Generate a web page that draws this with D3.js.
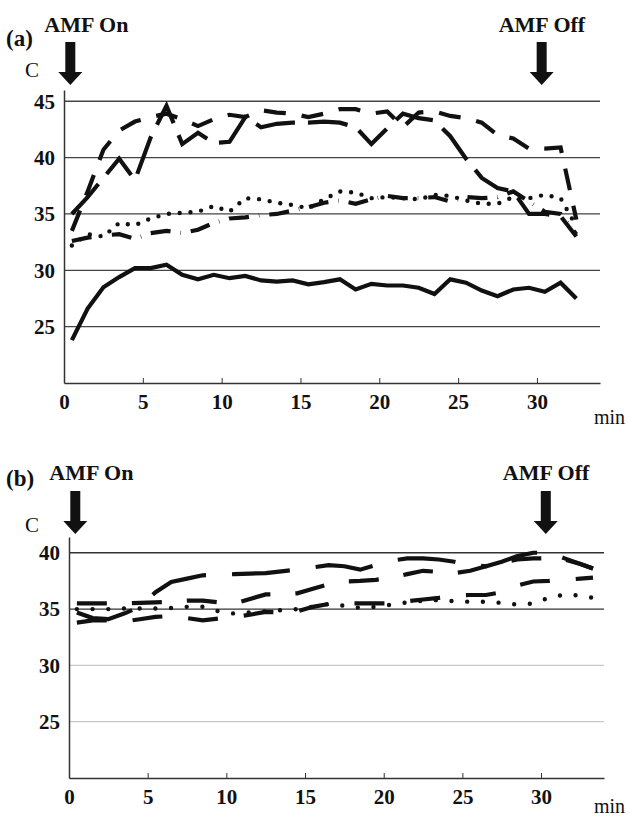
<!DOCTYPE html>
<html>
<head>
<meta charset="utf-8">
<script src="https://cdn.jsdelivr.net/npm/d3@7"></script>
<style>
  body { margin: 0; background: #fff; }
  text { font-family: "Liberation Serif", "Times New Roman", serif; fill: #111; }
</style>
</head>
<body>
<script>
const width = 627
const height = 816

// time points (min)
const timesA = [0.5, 1.5, 2.5, 3.5, 4.5, 5.5, 6.5, 7.5, 8.5, 9.5, 10.5, 11.5, 12.5, 13.5, 14.5, 15.5, 16.5,
  17.5, 18.5, 19.5, 20.5, 21.5, 22.5, 23.5, 24.5, 25.5, 26.5, 27.5, 28.5, 29.5, 30.5, 31.5, 32.5]
const timesB = [0.5, 1.5, 2.5, 3.5, 4.5, 5.5, 6.5, 7.5, 8.5, 9.5, 10.5, 11.5, 12.5, 13.5, 14.5, 15.5, 16.5,
  17.5, 18.5, 19.5, 20.5, 21.5, 22.5, 23.5, 24.5, 25.5, 26.5, 27.5, 28.5, 29.5, 30.5, 31.5, 32.5, 33.3]

// panel (a) temperatures, C
const solidA = [23.8, 26.6, 28.5, 29.4, 30.2, 30.2, 30.5, 29.6, 29.2, 29.6, 29.3, 29.5, 29.1, 29.0, 29.1, 28.75, 28.95,
  29.2, 28.3, 28.8, 28.65, 28.65, 28.45, 27.9, 29.2, 28.9, 28.2, 27.7, 28.3, 28.45, 28.1, 28.9, 27.5]
const longDashA = [35.0, 36.5, 38.2, 39.9, 38.0, 41.8, 44.6, 41.2, 42.2, 41.3, 41.4, 43.6, 42.7, 43.0, 43.1, 43.1, 43.2,
  43.1, 42.7, 41.2, 42.6, 43.9, 43.5, 43.3, 41.9, 39.9, 38.2, 37.3, 37.0, 35.0, 35.0, 34.8, 33.0]
const dashA = [33.5, 37.0, 40.7, 42.4, 43.2, 43.6, 43.9, 43.4, 42.8, 43.4, 43.8, 43.6, 44.2, 44.0, 43.9, 43.6, 43.9,
  44.3, 44.3, 43.9, 44.1, 42.7, 44.0, 44.1, 43.7, 43.5, 43.1, 42.0, 41.7, 40.8, 40.8, 40.9, 34.5]
const dotA = [32.2, 33.2, 33.0, 34.2, 34.0, 34.6, 35.0, 35.1, 35.2, 35.7, 35.2, 36.4, 36.3, 36.0, 35.8, 35.5, 36.3,
  37.0, 36.9, 36.4, 36.5, 36.4, 36.3, 36.7, 36.6, 36.2, 35.9, 35.9, 36.5, 36.4, 36.7, 36.4, 33.9]
const dashDotA = [32.6, 32.9, 33.1, 33.2, 32.8, 33.3, 33.5, 33.3, 33.6, 34.2, 34.6, 34.7, 34.9, 35.0, 35.3, 35.6, 36.0,
  36.2, 35.9, 36.3, 36.6, 36.4, 36.4, 36.5, 36.1, 36.5, 36.4, 36.5, 37.0, 36.1, 35.2, 35.0, 33.2]

// panel (b) temperatures, C
const longDashB = [34.7, 34.2, 34.1, 34.6, 35.2, 36.5, 37.4, 37.7, 38.0, 38.05, 38.1, 38.15, 38.2, 38.35, 38.5, 38.7, 38.9,
  38.8, 38.5, 38.9, 39.3, 39.5, 39.5, 39.4, 39.2, 38.9, 38.8, 39.2, 39.7, 40.0, 40.0, 39.5, 39.0, 38.6]
const dashB = [35.5, 35.5, 35.5, 35.5, 35.55, 35.6, 35.65, 35.75, 35.75, 35.6, 35.5, 35.9, 36.3, 36.3, 36.4, 36.8, 37.2,
  37.45, 37.5, 37.6, 37.8, 38.1, 38.4, 38.3, 38.2, 38.4, 38.8, 39.1, 39.4, 39.5, 39.5, 39.4, 39.0, 38.6]
const lowDashB = [33.8, 34.0, 34.0, 33.9, 34.1, 34.3, 34.4, 34.2, 34.0, 34.15, 34.3, 34.5, 34.75, 34.7, 34.8, 35.2, 35.45,
  35.5, 35.5, 35.5, 35.5, 35.7, 35.85, 36.0, 36.2, 36.25, 36.25, 36.5, 37.1, 37.45, 37.5, 37.6, 37.7, 37.8]
const dotB = [35.0, 35.0, 35.0, 35.05, 35.05, 35.05, 35.1, 35.2, 35.2, 34.8, 34.6, 34.7, 34.8, 34.9, 35.0, 35.2, 35.45,
  35.3, 35.1, 35.2, 35.4, 35.6, 35.75, 35.8, 35.7, 35.65, 35.65, 35.55, 35.4, 35.5, 36.0, 36.3, 36.2, 36.0]

const xTicks = [0, 5, 10, 15, 20, 25, 30]
const yTicksA = [25, 30, 35, 40, 45]
const yTicksB = [25, 30, 35, 40]
const darkGridB = [35, 40]
const amfOn = 0.4
const amfOff = 30.3

const svg = d3.select("body")
  .append("svg")
    .attr("width", width)
    .attr("height", height)

function drawPanel(p) {
  const x = d3.scaleLinear().domain([0, 34]).range([p.left, p.right])
  const y = d3.scaleLinear().domain([20, p.yTop]).range([p.bottom, p.top])
  const g = svg.append("g")

  // grid lines
  g.selectAll(".grid")
    .data(p.yTicks)
    .join("line")
      .attr("x1", p.left).attr("x2", p.right)
      .attr("y1", d => y(d)).attr("y2", d => y(d))
      .attr("stroke", d => p.gridColor(d))
      .attr("stroke-width", 1.3)

  // y axis
  const yAxis = g.append("g")
    .attr("transform", `translate(${p.left},0)`)
    .call(d3.axisLeft(y).tickValues(p.yTicks).tickSize(0).tickPadding(p.yPad))
  yAxis.select(".domain").attr("stroke", "#333").attr("stroke-width", 1.5)
  yAxis.selectAll("text")
    .style("font-family", "'Liberation Serif', serif")
    .style("font-size", "21px").style("font-weight", "bold").attr("fill", "#111")

  // x axis
  const xAxis = g.append("g")
    .attr("transform", `translate(0,${p.bottom})`)
    .call(d3.axisBottom(x).tickValues(xTicks).tickSizeInner(-5).tickSizeOuter(0).tickPadding(11))
  xAxis.select(".domain").attr("stroke", "#333").attr("stroke-width", 1.5)
  xAxis.selectAll(".tick line").attr("stroke", "#333")
  xAxis.selectAll("text")
    .style("font-family", "'Liberation Serif', serif")
    .style("font-size", "21px").style("font-weight", "bold").attr("fill", "#111")

  // series
  const line = d3.line().x(d => x(d[0])).y(d => y(d[1]))
  p.series.forEach(s => {
    g.append("path")
      .datum(p.times.map((t, i) => [t, s.values[i]]))
      .attr("d", line)
      .attr("fill", "none")
      .attr("stroke", "#111")
      .attr("stroke-width", s.width || 4.2)
      .attr("stroke-dasharray", s.dash)
      .attr("stroke-linecap", s.cap || "butt")
      .attr("stroke-linejoin", "miter")
  })

  // AMF arrows
  const arrow = (t) => {
    const cx = x(t)
    g.append("path")
      .attr("d", `M${cx - 5},${p.arrowTop} L${cx + 5},${p.arrowTop} L${cx + 5},${p.arrowTop + 30}
        L${cx + 12},${p.arrowTop + 30} L${cx},${p.arrowTop + 43} L${cx - 12},${p.arrowTop + 30}
        L${cx - 5},${p.arrowTop + 30} Z`)
      .attr("fill", "#111")
  }
  arrow(amfOn)
  arrow(amfOff)

  const label = (txt, tx, ty, bold, size, anchor) => g.append("text")
    .attr("x", tx).attr("y", ty)
    .attr("text-anchor", anchor || "start")
    .style("font-size", size + "px")
    .style("font-weight", bold ? "bold" : "normal")
    .text(txt)
  label(p.name, 6, p.nameY, true, 23)
  label("AMF On", x(amfOn) - 26, p.amfY, true, 22)
  label("AMF Off", x(amfOff) - 43, p.amfY, true, 22)
  label("C", 25, p.cY, false, 21)
  label("min", 625, p.minY, false, 20, "end")
}

drawPanel({
  left: 64, right: 600, top: 90, bottom: 383, yTop: 46,
  yTicks: yTicksA, yPad: 9, gridColor: () => "#444",
  times: timesA,
  series: [
    { values: solidA, dash: null },
    { values: longDashA, dash: "40,13" },
    { values: dashA, dash: "22,16" },
    { values: dotA, dash: "0,10.8", cap: "round", width: 4.4 },
    { values: dashDotA, dash: "20,10,0.5,10" }
  ],
  arrowTop: 42, name: "(a)", nameY: 46, amfY: 32, cY: 77, minY: 424
})

drawPanel({
  left: 69, right: 604, top: 537, bottom: 778, yTop: 41.4,
  yTicks: yTicksB, yPad: 9, gridColor: d => darkGridB.includes(d) ? "#333" : "#c8c8c8",
  times: timesB,
  series: [
    { values: longDashB, dash: "58,26" },
    { values: dashB, dash: "30,25" },
    { values: lowDashB, dash: "30,26" },
    { values: dotB, dash: "0,15.7", cap: "round", width: 4.4 }
  ],
  arrowTop: 491, name: "(b)", nameY: 486, amfY: 480, cY: 532, minY: 813
})
</script>
</body>
</html>
